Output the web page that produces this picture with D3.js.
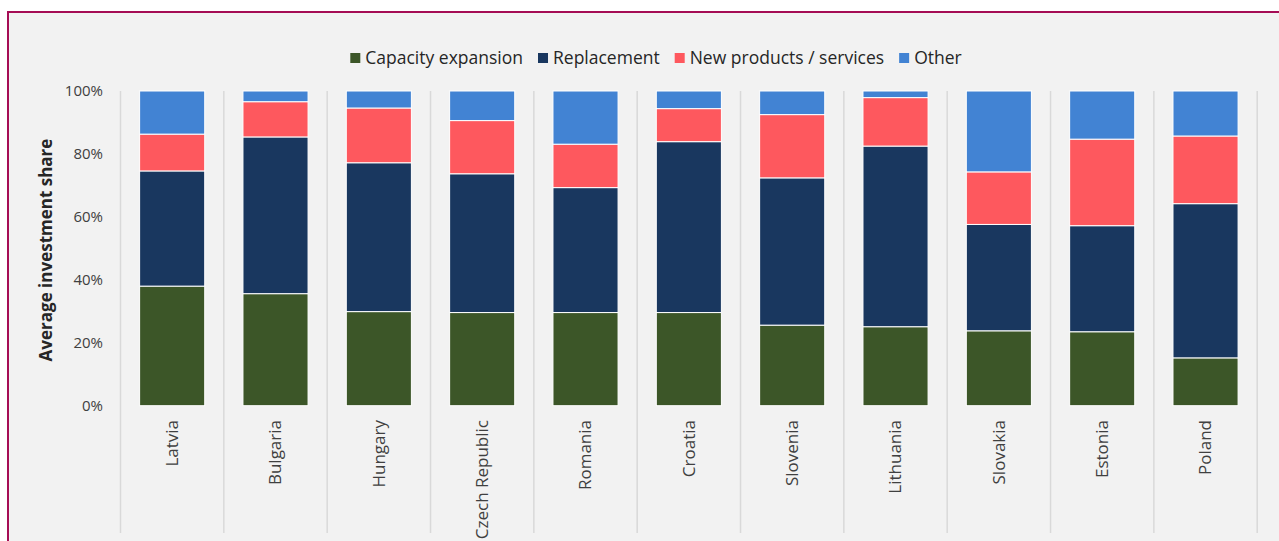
<!DOCTYPE html>
<html><head><meta charset="utf-8">
<script src="https://cdn.jsdelivr.net/npm/d3@7"></script>
<style>
html,body{margin:0;padding:0;background:#fff;overflow:hidden;}
svg{display:block;font-family:"Open Sans","Noto Sans",sans-serif;}
</style></head>
<body>
<svg id="chart" width="1279" height="541"></svg>
<script>
const categories = ["Latvia","Bulgaria","Hungary","Czech Republic","Romania","Croatia","Slovenia","Lithuania","Slovakia","Estonia","Poland"];
const seriesNames = ["Capacity expansion","Replacement","New products / services","Other"];
const seriesColors = ["#3c5628","#19375f","#fe585e","#4283d3"];
const capacity    = [38.0, 35.6, 29.9, 29.6, 29.6, 29.6, 25.6, 25.1, 23.8, 23.5, 15.2];
const replacement = [36.6, 49.8, 47.3, 44.1, 39.7, 54.3, 46.8, 57.4, 33.8, 33.7, 49.0];
const newProducts = [11.7, 11.2, 17.4, 16.9, 13.8, 10.5, 20.1, 15.4, 16.7, 27.5, 21.5];
const other       = [13.7,  3.4,  5.4,  9.4, 16.9,  5.6,  7.5,  2.1, 25.7, 15.3, 14.3];
const yTicks = [0, 0.2, 0.4, 0.6, 0.8, 1.0];
const yTitle = "Average investment share";

const svg = d3.select("#chart");
// background frame
svg.append("rect").attr("x",8).attr("y",12).attr("width",1400).attr("height",700)
  .attr("fill","#f2f2f2").attr("stroke","#a50d55").attr("stroke-width",2);

const x = d3.scaleBand().domain(categories).range([120.5, 1257.2]).paddingInner(0).paddingOuter(0);
const y = d3.scaleLinear().domain([0,1]).range([405.7, 91]);

const table = categories.map((c,i)=>({cat:c, s0:capacity[i]/100, s1:replacement[i]/100, s2:newProducts[i]/100, s3:other[i]/100}));
const stack = d3.stack().keys(["s0","s1","s2","s3"])(table);

// separators
const seps = d3.range(categories.length+1).map(i => 120.5 + i*x.bandwidth());
svg.append("g").selectAll("line").data(seps).join("line")
  .attr("x1",d=>d).attr("x2",d=>d).attr("y1",91).attr("y2",533)
  .attr("stroke","#d9d9d9").attr("stroke-width",1.5);

// bars
const barW = x.bandwidth()*0.63;
svg.append("g").selectAll("g").data(stack).join("g")
  .attr("fill",(d,i)=>seriesColors[i])
  .selectAll("rect").data(d=>d).join("rect")
  .attr("x",d=>x(d.data.cat)+(x.bandwidth()-barW)/2)
  .attr("width",barW)
  .attr("y",d=>y(d[1]))
  .attr("height",d=>y(d[0])-y(d[1]))
  .attr("stroke","#ffffff").attr("stroke-width",1);

// y axis
const yAxis = d3.axisLeft(y).tickValues(yTicks).tickFormat(d3.format(".0%")).tickSize(0).tickPadding(0);
const ya = svg.append("g").attr("transform","translate(103,0)").call(yAxis);
ya.select(".domain").remove();
ya.selectAll("text").attr("fill","#404040").style("font-size","15px").style("font-family","'Open Sans',sans-serif");

svg.append("text").attr("transform","translate(46,250) rotate(-90)")
  .attr("text-anchor","middle").attr("dy","0.35em").attr("fill","#262626")
  .style("font-size","17px").style("font-weight","bold").text(yTitle);

// x labels
const xAxis = d3.axisBottom(x).tickSize(0).tickPadding(0);
const xa = svg.append("g").attr("transform","translate(0,420)").call(xAxis);
xa.select(".domain").remove();
xa.selectAll("text").attr("transform","rotate(-90)").attr("text-anchor","end")
  .attr("x",0).attr("y",0).attr("dy","0.35em")
  .attr("fill","#404040").style("font-size","17px").style("font-family","'Open Sans',sans-serif");

// legend
const leg = svg.append("g");
const items = leg.selectAll("g").data(seriesNames).join("g");
items.append("rect").attr("width",10).attr("height",10).attr("y",-5).attr("fill",(d,i)=>seriesColors[i]);
items.append("text").attr("x",15).attr("dy","0.35em").attr("fill","#262626")
  .style("font-size","17.5px").text(d=>d);
let pos = 0;
items.each(function(){
  const g = d3.select(this);
  g.attr("transform",`translate(${pos},0)`);
  const w = g.select("text").node().getComputedTextLength();
  pos += 15 + w + 15;
});
const total = pos - 15;
leg.attr("transform",`translate(${656 - total/2},58)`);
</script>
</body></html>
